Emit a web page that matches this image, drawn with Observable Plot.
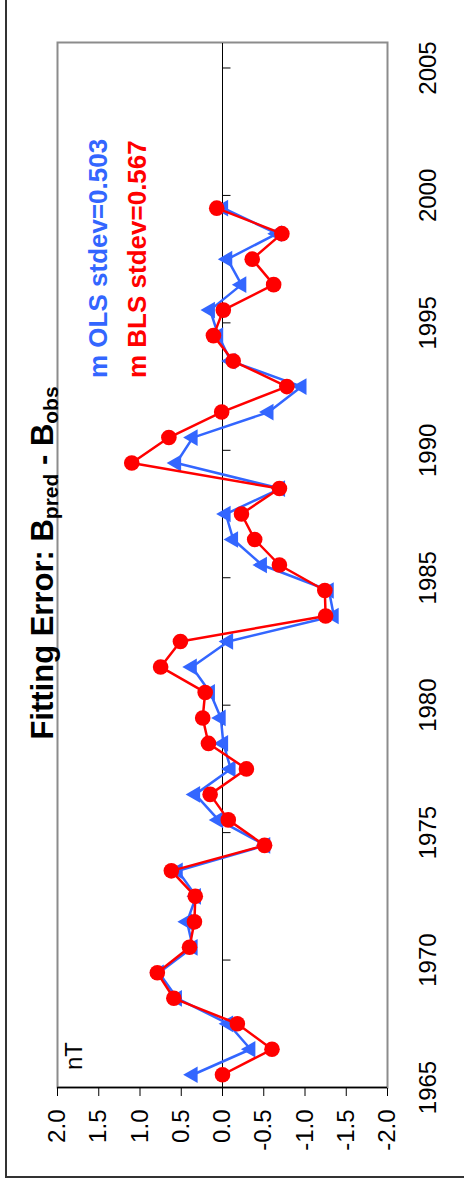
<!DOCTYPE html>
<html>
<head>
<meta charset="utf-8">
<script src="https://cdn.jsdelivr.net/npm/d3@7"></script>
<script src="https://cdn.jsdelivr.net/npm/@observablehq/plot@0.6"></script>
<style>
  html, body { margin: 0; padding: 0; overflow: hidden; background: #fff; width: 464px; height: 1183px; }
  #chart { position: absolute; left: 0; top: 0; width: 1183px; height: 464px; overflow: hidden;
           transform-origin: 0 0; transform: translate(0px, 1183px) rotate(-90deg);
           font-family: "Liberation Sans", Arial, sans-serif; }
  #chart > * { position: absolute; left: 0; top: 0; }
  #frame { position: absolute; left: 5px; top: 5px; width: 1400px; height: 700px; border: 2px solid #333; box-sizing: border-box; }
</style>
</head>
<body>
<div id="chart"><div id="frame"></div></div>
<script>
// ---- data ----
const years = [1965.5, 1966.5, 1967.5, 1968.5, 1969.5, 1970.5, 1971.5, 1972.5, 1973.5, 1974.5,
               1975.5, 1976.5, 1977.5, 1978.5, 1979.5, 1980.5, 1981.5, 1982.5, 1983.5, 1984.5,
               1985.5, 1986.5, 1987.5, 1988.5, 1989.5, 1990.5, 1991.5, 1992.5, 1993.5, 1994.5,
               1995.5, 1996.5, 1997.5, 1998.5, 1999.5];
const olsErr = [0.36, -0.34, -0.07, 0.55, 0.77, 0.36, 0.43, 0.32, 0.54, -0.52,
                0.05, 0.33, -0.10, -0.01, 0.02, 0.15, 0.37, -0.07, -1.35, -1.29,
                -0.48, -0.13, -0.04, -0.70, 0.56, 0.36, -0.56, -0.96, -0.10, 0.05,
                0.15, -0.23, -0.06, -0.66, -0.01];
const blsErr = [0.00, -0.60, -0.18, 0.59, 0.79, 0.40, 0.34, 0.33, 0.62, -0.51,
                -0.07, 0.15, -0.29, 0.17, 0.24, 0.21, 0.75, 0.51, -1.25, -1.24,
                -0.69, -0.39, -0.23, -0.69, 1.10, 0.65, 0.01, -0.78, -0.13, 0.11,
                -0.01, -0.62, -0.36, -0.72, 0.07];
const xTicks = [1965, 1970, 1975, 1980, 1985, 1990, 1995, 2000, 2005];
const xTickLabels = ["1965", "1970", "1975", "1980", "1985", "1990", "1995", "2000", "2005"];
const yTicks = [2.0, 1.5, 1.0, 0.5, 0.0, -0.5, -1.0, -1.5, -2.0];
const yTickLabels = ["2.0", "1.5", "1.0", "0.5", "0.0", "-0.5", "-1.0", "-1.5", "-2.0"];
const seriesNames = ["m OLS stdev=0.503", "m BLS stdev=0.567"];
const titleParts = ["Fitting Error: B", "pred", " - B", "obs"];
const unitLabel = "nT";

const BLUE = "#3366ff", RED = "#ff0000";
const ols = years.map((y, i) => ({year: y, v: olsErr[i]}));
const bls = years.map((y, i) => ({year: y, v: blsErr[i]}));

const tickDown = { draw(ctx) { ctx.moveTo(0, 0); ctx.lineTo(0, 8); } };

const chart = Plot.plot({
  width: 1183, height: 464,
  marginLeft: 95, marginRight: 43, marginTop: 57, marginBottom: 77,
  style: { fontFamily: "'Liberation Sans', Arial, sans-serif", fontSize: "24px", color: "black", background: "transparent", overflow: "visible" },
  x: { domain: [1965, 2006], axis: null },
  y: { domain: [-2, 2], axis: null },
  marks: [
    Plot.frame({ stroke: "#8c8c8c", strokeWidth: 2 }),
    Plot.ruleY([0], { stroke: "black", strokeWidth: 1 }),
    Plot.dot(xTicks, { x: d => d, y: () => 0, symbol: tickDown, stroke: "black", strokeWidth: 1, fill: "none" }),
    Plot.axisX({ ticks: xTicks, tickSize: 0, tickPadding: 31, label: null, tickFormat: d => xTickLabels[xTicks.indexOf(d)], fontSize: 24 }),
    Plot.axisY({ ticks: yTicks, tickSize: 8, tickPadding: 14, label: null, tickFormat: d => yTickLabels[yTicks.indexOf(d)], fontSize: 24 }),
    Plot.ruleX([1965], { stroke: "black", strokeWidth: 1.5 }),
    Plot.line(ols, { x: "year", y: "v", stroke: BLUE, strokeWidth: 2.5 }),
    Plot.dot(ols, { x: "year", y: "v", symbol: "triangle", r: 6.2, fill: BLUE, stroke: "none" }),
    Plot.line(bls, { x: "year", y: "v", stroke: RED, strokeWidth: 2.5 }),
    Plot.dot(bls, { x: "year", y: "v", r: 7.8, fill: RED, stroke: "none" })
  ]
});
document.getElementById("chart").appendChild(chart);

// overlay texts (title, legend labels, unit)
const ov = d3.create("svg").attr("width", 1183).attr("height", 464)
  .style("font-family", "'Liberation Sans', Arial, sans-serif").style("overflow", "visible");
const t = ov.append("text").attr("x", 620).attr("y", 53).attr("text-anchor", "middle")
  .attr("font-weight", "bold").attr("font-size", 31).attr("fill", "black");
t.append("tspan").text(titleParts[0]);
t.append("tspan").attr("font-size", 21).attr("dy", 5).text(titleParts[1]);
t.append("tspan").attr("dy", -5).text(titleParts[2]);
t.append("tspan").attr("font-size", 21).attr("dy", 5).text(titleParts[3]);
ov.append("text").attr("x", 805).attr("y", 107).attr("font-weight", "bold").attr("font-size", 26)
  .attr("fill", BLUE).text(seriesNames[0]);
ov.append("text").attr("x", 805).attr("y", 146).attr("font-weight", "bold").attr("font-size", 26)
  .attr("fill", RED).text(seriesNames[1]);
ov.append("text").attr("x", 113).attr("y", 82).attr("font-size", 24).attr("fill", "black").text(unitLabel);
document.getElementById("chart").appendChild(ov.node());
</script>
</body>
</html>
